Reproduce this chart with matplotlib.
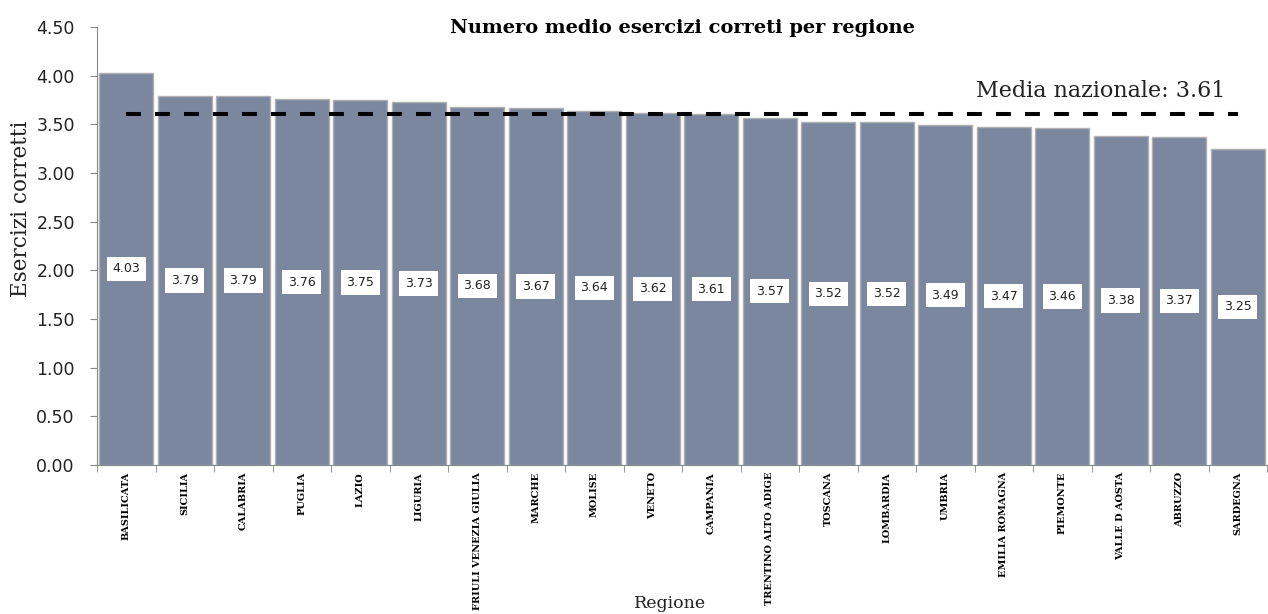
import matplotlib
matplotlib.use("Agg")
import matplotlib.pyplot as plt
import numpy as np

regions = ["BASILICATA", "SICILIA", "CALABRIA", "PUGLIA", "LAZIO", "LIGURIA",
           "FRIULI VENEZIA GIULIA", "MARCHE", "MOLISE", "VENETO", "CAMPANIA",
           "TRENTINO ALTO ADIGE", "TOSCANA", "LOMBARDIA", "UMBRIA",
           "EMILIA ROMAGNA", "PIEMONTE", "VALLE D AOSTA", "ABRUZZO", "SARDEGNA"]
values = [4.03, 3.79, 3.79, 3.76, 3.75, 3.73, 3.68, 3.67, 3.64, 3.62, 3.61,
          3.57, 3.52, 3.52, 3.49, 3.47, 3.46, 3.38, 3.37, 3.25]
national_mean = 3.61
yticks = [0.0, 0.5, 1.0, 1.5, 2.0, 2.5, 3.0, 3.5, 4.0, 4.5]

fig = plt.figure(figsize=(12.68, 6.14), dpi=100)
ax = fig.add_axes([97/1268, 1-465/614, 1170/1268, 438/614])

x = np.arange(len(regions))
bars = ax.bar(x, values, width=0.93, color="#7a879f", edgecolor="#b0b0b0",
              linewidth=1.0, zorder=2)

for xi, v in zip(x, values):
    ax.text(xi, v/2, f"{v:.2f}", ha="center", va="center", fontsize=9,
            family="DejaVu Sans", color="#222222", zorder=4,
            bbox=dict(boxstyle="square,pad=0.45", fc="white", ec="none"))

ax.plot([x[0], x[-1]], [national_mean, national_mean], color="black",
        linestyle=(0, (3.7, 3.5)), linewidth=2.9, zorder=3)
ax.text(x[-1] - 0.22, national_mean + 0.12, f"Media nazionale: {national_mean:.2f}",
        ha="right", va="bottom", fontsize=16, family="DejaVu Serif", color="#222222")

ax.set_xlim(-0.5, len(regions) - 0.5)
ax.set_ylim(0, 4.5)
ax.set_yticks(yticks)
ax.set_yticklabels([f"{t:.2f}" for t in yticks], fontsize=12.5, family="DejaVu Sans",
                   color="#222222")
ax.set_xticks(x)
ax.set_xticklabels(regions, rotation=90, fontsize=7, family="DejaVu Serif",
                   fontweight="bold", va="top")
ax.tick_params(axis="x", length=0, pad=5)
ax.set_xticks(np.arange(-0.5, len(regions), 1.0), minor=True)
ax.tick_params(axis="x", which="minor", length=5, color="#888888")
ax.tick_params(axis="y", length=5, color="#888888", pad=11)

for s in ["top", "right"]:
    ax.spines[s].set_visible(False)
for s in ["left", "bottom"]:
    ax.spines[s].set_color("#888888")

ax.set_ylabel("Esercizi corretti", fontsize=15.5, family="DejaVu Serif",
              color="#222222")
ax.yaxis.set_label_coords(-0.0555, 0.584)
ax.set_xlabel("Regione", fontsize=12.5, family="DejaVu Serif", color="#222222")
ax.xaxis.set_label_coords(0.49, -0.297)
ax.set_title("Numero medio esercizi correti per regione", fontsize=14,
             family="DejaVu Serif", fontweight="bold", pad=-4, y=1.0)

fig.savefig("out.png", dpi=100)
